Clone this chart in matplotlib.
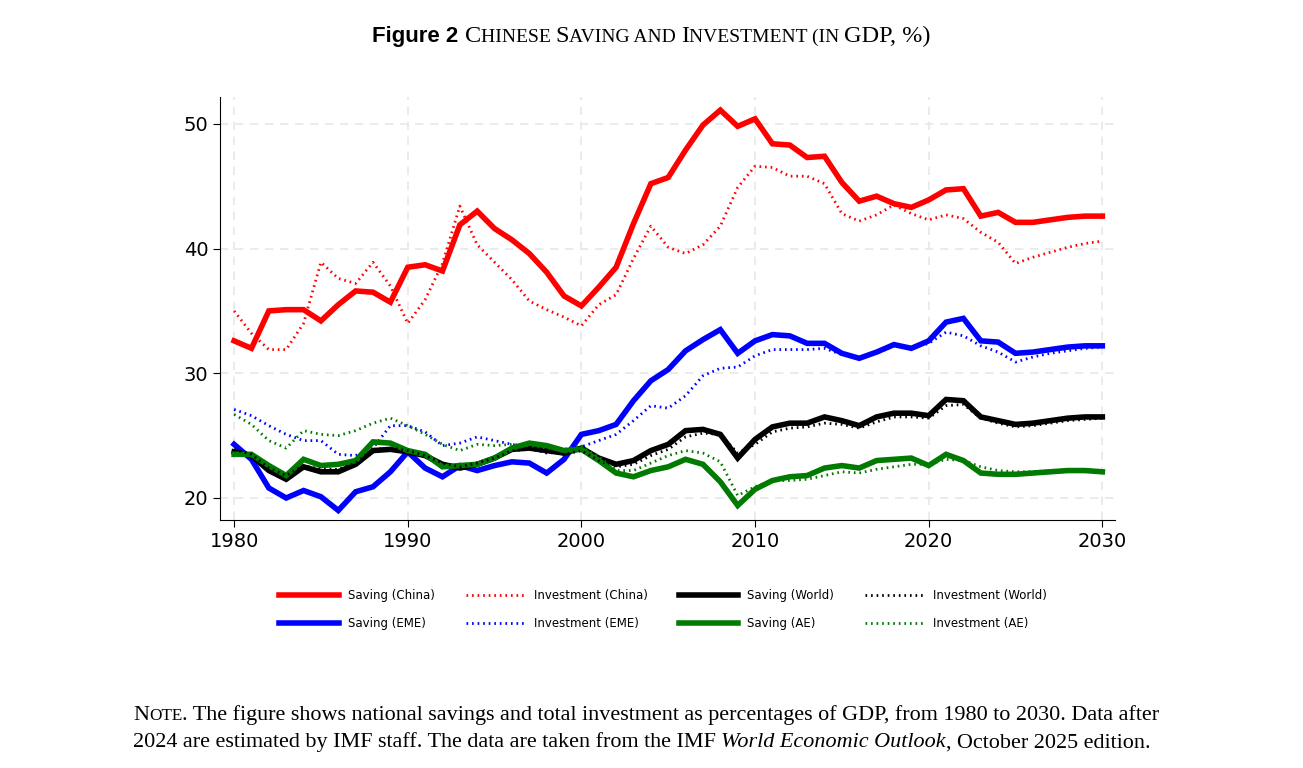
import matplotlib
matplotlib.use("Agg")
import matplotlib.pyplot as plt
import numpy as np

years = np.arange(1980, 2031)

saving_china = [32.6, 32.0, 35.0, 35.1, 35.1, 34.2, 35.5, 36.6, 36.5, 35.7,
                38.5, 38.7, 38.2, 41.9, 43.0, 41.6, 40.7, 39.6, 38.1, 36.2,
                35.4, 36.9, 38.5, 42.0, 45.2, 45.7, 47.9, 49.9, 51.1, 49.8,
                50.4, 48.4, 48.3, 47.3, 47.4, 45.3, 43.8, 44.2, 43.6, 43.3,
                43.9, 44.7, 44.8, 42.6, 42.9, 42.1, 42.1, 42.3, 42.5, 42.6, 42.6]
invest_china = [35.0, 33.2, 31.9, 31.9, 34.0, 38.9, 37.6, 37.2, 38.9, 37.0,
                34.0, 35.9, 38.8, 43.4, 40.3, 38.9, 37.5, 35.8, 35.1, 34.5,
                33.8, 35.5, 36.3, 39.2, 41.8, 40.1, 39.6, 40.3, 41.8, 44.9,
                46.6, 46.5, 45.8, 45.8, 45.2, 42.8, 42.2, 42.7, 43.5, 42.8,
                42.3, 42.7, 42.4, 41.3, 40.5, 38.8, 39.3, 39.7, 40.1, 40.4, 40.6]
saving_world = [23.7, 23.4, 22.2, 21.5, 22.5, 22.1, 22.1, 22.7, 23.8, 23.9,
                23.7, 23.4, 22.7, 22.4, 22.7, 23.2, 23.9, 24.0, 23.8, 23.6,
                24.0, 23.2, 22.7, 23.0, 23.8, 24.3, 25.4, 25.5, 25.1, 23.2,
                24.7, 25.7, 26.0, 26.0, 26.5, 26.2, 25.8, 26.5, 26.8, 26.8,
                26.6, 27.9, 27.8, 26.5, 26.2, 25.9, 26.0, 26.2, 26.4, 26.5, 26.5]
invest_world = [23.9, 23.5, 22.4, 21.8, 22.6, 22.3, 22.3, 22.8, 23.9, 24.0,
                23.8, 23.4, 22.8, 22.5, 22.8, 23.2, 23.8, 23.9, 23.7, 23.5,
                23.8, 23.0, 22.5, 22.7, 23.4, 23.9, 24.9, 25.2, 25.1, 23.6,
                24.3, 25.3, 25.6, 25.7, 26.0, 25.9, 25.6, 26.1, 26.5, 26.5,
                26.4, 27.4, 27.5, 26.4, 26.0, 25.7, 25.8, 26.0, 26.2, 26.3, 26.4]
saving_eme = [24.3, 23.1, 20.8, 20.0, 20.6, 20.1, 19.0, 20.5, 20.9, 22.1,
              23.7, 22.4, 21.7, 22.6, 22.2, 22.6, 22.9, 22.8, 22.0, 23.1,
              25.1, 25.4, 25.9, 27.8, 29.4, 30.3, 31.8, 32.7, 33.5, 31.6,
              32.6, 33.1, 33.0, 32.4, 32.4, 31.6, 31.2, 31.7, 32.3, 32.0,
              32.6, 34.1, 34.4, 32.6, 32.5, 31.6, 31.7, 31.9, 32.1, 32.2, 32.2]
invest_eme = [27.1, 26.6, 25.8, 25.1, 24.6, 24.6, 23.5, 23.4, 24.0, 25.8,
              25.8, 25.3, 24.2, 24.4, 24.9, 24.6, 24.3, 24.0, 23.6, 23.7,
              24.1, 24.6, 25.1, 26.2, 27.4, 27.2, 28.2, 29.8, 30.4, 30.5,
              31.4, 31.9, 31.9, 31.9, 32.0, 31.5, 31.3, 31.6, 32.2, 32.0,
              32.4, 33.3, 33.0, 32.2, 31.7, 30.9, 31.3, 31.6, 31.8, 32.0, 32.1]
saving_ae = [23.5, 23.5, 22.6, 21.8, 23.1, 22.6, 22.7, 23.0, 24.5, 24.4,
             23.8, 23.5, 22.5, 22.6, 22.7, 23.2, 24.0, 24.4, 24.2, 23.8,
             23.9, 23.0, 22.0, 21.7, 22.2, 22.5, 23.1, 22.7, 21.3, 19.4,
             20.7, 21.4, 21.7, 21.8, 22.4, 22.6, 22.4, 23.0, 23.1, 23.2,
             22.6, 23.5, 23.0, 22.0, 21.9, 21.9, 22.0, 22.1, 22.2, 22.2, 22.1]
invest_ae = [26.7, 25.9, 24.6, 24.0, 25.4, 25.1, 25.0, 25.4, 26.0, 26.4,
             25.8, 25.1, 24.3, 23.8, 24.3, 24.2, 24.3, 24.2, 24.0, 23.9,
             24.2, 23.3, 22.2, 22.2, 22.8, 23.4, 23.8, 23.6, 22.9, 20.2,
             20.9, 21.4, 21.4, 21.5, 21.8, 22.1, 22.0, 22.3, 22.5, 22.7,
             22.7, 23.1, 23.0, 22.5, 22.2, 22.1, 22.1, 22.2, 22.2, 22.2, 22.1]

# ordered so that the column-filled legend reads row-wise like the original
series = [
    ("Saving (China)", saving_china, "#ff0000", "-"),
    ("Saving (EME)", saving_eme, "#0000ff", "-"),
    ("Investment (China)", invest_china, "#ff0000", ":"),
    ("Investment (EME)", invest_eme, "#0000ff", ":"),
    ("Saving (World)", saving_world, "#000000", "-"),
    ("Saving (AE)", saving_ae, "#007a00", "-"),
    ("Investment (World)", invest_world, "#000000", ":"),
    ("Investment (AE)", invest_ae, "#007a00", ":"),
]

fig = plt.figure(figsize=(13.03, 7.68), dpi=100)
ax = fig.add_axes([0.169, 0.323, 0.687, 0.551])

for label, vals, color, ls in series:
    if ls == "-":
        ax.plot(years, vals, color=color, lw=4, label=label, solid_joinstyle="miter")
    else:
        ax.plot(years, vals, color=color, lw=2, linestyle=(0, (0.6, 1.4)), label=label)

ax.set_xlim(1979.2, 2030.75)
ax.set_ylim(18.24, 52.17)
ax.set_xticks([1980, 1990, 2000, 2010, 2020, 2030])
ax.set_yticks([20, 30, 40, 50])
ax.grid(True, color="#e8e8e8", linestyle=(0, (5, 4)), lw=1.2)
ax.set_axisbelow(True)
for s in ["top", "right"]:
    ax.spines[s].set_visible(False)
ax.tick_params(labelsize=14, length=5)

leg = fig.legend(loc="center", bbox_to_anchor=(0.509, 0.206), ncol=4, frameon=False,
                 fontsize=8.5, handlelength=5, columnspacing=2.6, labelspacing=1.3)

renderer = fig.canvas.get_renderer()


def place_pieces(pieces, x, y, ha="center"):
    # pieces: list of (text, kwargs); laid out left to right
    widths = []
    objs = []
    for txt, kw in pieces:
        t = fig.text(0, y, txt, va="baseline", **kw)
        objs.append(t)
        widths.append(t.get_window_extent(renderer).width / fig.bbox.width)
    total = sum(widths)
    cur = x - total / 2 if ha == "center" else x
    for t, w in zip(objs, widths):
        t.set_x(cur)
        cur += w


serif = dict(family="Liberation Serif", color="black")
big = dict(serif, fontsize=17.5)
small = dict(serif, fontsize=14)
place_pieces([
    ("Figure 2 ", dict(family="Liberation Sans", fontsize=16, weight="bold")),
    ("C", big), ("HINESE ", small), ("S", big), ("AVING AND ", small),
    ("I", big), ("NVESTMENT (IN ", small), ("GDP, %)", big),
], 0.5, 0.945)

note = dict(serif, fontsize=15.9)
place_pieces([
    ("N", note), ("OTE", dict(serif, fontsize=12.3)),
    (". The figure shows national savings and total investment as percentages of GDP, from 1980 to 2030. Data after", note),
], 0.102, 0.063, ha="left")
place_pieces([
    ("2024 are estimated by IMF staff. The data are taken from the IMF ", note),
    ("World Economic Outlook", dict(note, style="italic")),
    (", October 2025 edition.", note),
], 0.102, 0.027, ha="left")

fig.savefig("out.png", dpi=100)
